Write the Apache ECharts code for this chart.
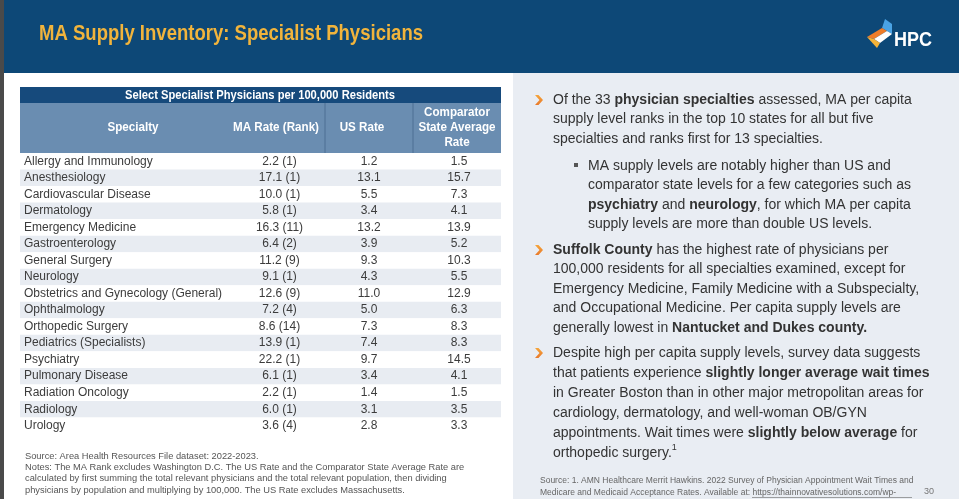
<!DOCTYPE html>
<html><head><meta charset="utf-8">
<script src="https://cdn.jsdelivr.net/npm/echarts@6/dist/echarts.min.js"></script>
<style>html,body{margin:0;padding:0;background:#fff}#c{width:959px;height:499px}</style>
</head><body><div id="c"></div>
<script>
// ---- data ----
const specialties = ['Allergy and Immunology','Anesthesiology','Cardiovascular Disease','Dermatology','Emergency Medicine','Gastroenterology','General Surgery','Neurology','Obstetrics and Gynecology (General)','Ophthalmology','Orthopedic Surgery','Pediatrics (Specialists)','Psychiatry','Pulmonary Disease','Radiation Oncology','Radiology','Urology'];
const maRate = [2.2,17.1,10.0,5.8,16.3,6.4,11.2,9.1,12.6,7.2,8.6,13.9,22.2,6.1,2.2,6.0,3.6];
const maRank = [1,1,1,1,11,2,9,1,9,4,14,1,1,1,1,1,4];
const usRate = [1.2,13.1,5.5,3.4,13.2,3.9,9.3,4.3,11.0,5.0,7.3,7.4,9.7,3.4,1.4,3.1,2.8];
const compRate = [1.5,15.7,7.3,4.1,13.9,5.2,10.3,5.5,12.9,6.3,8.3,8.3,14.5,4.1,1.5,3.5,3.3];
const columnHeaders = ['Specialty','MA Rate (Rank)','US Rate','Comparator\nState Average\nRate'];
const tableTitle = 'Select Specialist Physicians per 100,000 Residents';
const slideTitle = 'MA Supply Inventory: Specialist Physicians';

const chart = echarts.init(document.getElementById('c'), null, {renderer:'canvas'});
const BODY_FONT = "'Liberation Sans', Arial, sans-serif";
const BOLD_FONT = "'Liberation Sans', Arial, sans-serif";

// text width measurement (used only to condense bold headings like the narrow font of the original)
const mctx = document.createElement('canvas').getContext('2d');
function squeeze(text, font, target){
  mctx.font = font;
  const w = Math.max.apply(null, text.split('\n').map(t => mctx.measureText(t).width));
  return target / w;
}

const TOP = 153, H = 281;
const stripe = {show:true, areaStyle:{color:['#ffffff','#e8ecf2']}};
const cols = [[20,232],[232,325],[325,413],[413,501]];

const grids = cols.map(c => ({left:c[0], width:c[1]-c[0], top:TOP, height:H}));
const xAxes = cols.map((c,i) => ({
  type:'category', gridIndex:i, position:'top', data:[columnHeaders[i]],
  axisLine:{show:false}, axisTick:{show:false}, splitLine:{show:false}, axisLabel:{show:false}
}));
const yAxes = cols.map((c,i) => ({
  type:'category', gridIndex:i, inverse:true, data:specialties,
  axisLine:{show:false}, axisTick:{show:false}, splitLine:{show:false},
  splitArea:stripe,
  axisLabel:{show:i===0, inside:true, margin:4, color:'#3c3c3c', fontFamily:BODY_FONT, fontSize:12}
}));

function textCol(idx, fmt, dx){
  return {
    type:'custom', xAxisIndex:idx, yAxisIndex:idx, silent:true,
    data: specialties.map((s,i)=>[0,i]),
    renderItem:(params, api)=>{
      const p = api.coord([api.value(0), api.value(1)]);
      return {type:'text', x:p[0]+(dx||0), y:p[1], style:{text:fmt(params.dataIndex), align:'center', verticalAlign:'middle',
        fill:'#3c3c3c', font:"12px "+BODY_FONT}};
    }
  };
}
const series = [
  textCol(1, i => maRate[i].toFixed(1)+' ('+maRank[i]+')', 1),
  textCol(2, i => usRate[i].toFixed(1), 0),
  textCol(3, i => compRate[i].toFixed(1), 2)
];

// right panel text
const RT = "14px "+BODY_FONT;
const rich = {
  b:{fontWeight:'bold', fontSize:14, fontFamily:BOLD_FONT, color:'#111'},
  sup:{fontSize:9, verticalAlign:'top', color:'#333', padding:[0,0,8,0]}
};
function para(x,y,lines,lh){
  return {type:'text', left:x, top:y, style:{text:lines.join('\n'), fill:'#333', font:RT, lineHeight:lh, rich:rich}};
}
function chevron(x,y){
  return {type:'polygon', shape:{points:[[x,y],[x+3.5,y],[x+8,y+5],[x+3.5,y+10],[x,y+10],[x+4.5,y+5]]},
    style:{fill:new echarts.graphic.LinearGradient(0,0,0,1,[{offset:0,color:'#f5a53a'},{offset:1,color:'#e9792a'}])}};
}

const titleFont = "bold 22px "+BOLD_FONT;
const headFont = "bold 12.5px "+BOLD_FONT;
const headScale = squeeze('MA Rate (Rank)', headFont, 86);
const headerCenters = [133, 276, 362, 457];

const graphic = [
  {type:'rect', shape:{x:0,y:0,width:959,height:73}, style:{fill:'#0d4877'}},
  {type:'rect', shape:{x:0,y:0,width:4,height:499}, style:{fill:'#4a4a4a'}, z:10},
  {type:'text', x:39, y:34, scaleX:squeeze(slideTitle, titleFont, 384),
    style:{text:slideTitle, fill:'#f1b43c', font:titleFont, verticalAlign:'middle'}},
  // logo
  {type:'polygon', shape:{points:[[882,28],[885,19],[892,24],[892,34],[887,31]]}, style:{fill:'#4aa3e4'}},
  {type:'polygon', shape:{points:[[867,37],[882,28],[887,31],[874,39]]}, style:{fill:'#ee7d2a'}},
  {type:'polygon', shape:{points:[[874,39],[887,31],[892,34],[880,43]]}, style:{fill:'#ffffff'}},
  {type:'polygon', shape:{points:[[867,37],[874,39],[880,43],[877,48]]}, style:{fill:'#f5b338'}},
  {type:'text', x:894, y:40, scaleX:squeeze('HPC', "bold 21px "+BODY_FONT, 38),
    style:{text:'HPC', fill:'#ffffff', font:"bold 21px "+BODY_FONT, verticalAlign:'middle'}},
  // table header bands
  {type:'rect', shape:{x:20,y:87,width:481,height:16}, style:{fill:'#164a7c'}},
  {type:'rect', shape:{x:20,y:103,width:481,height:50}, style:{fill:'#6a8db1'}, z:-1},
  {type:'text', x:260, y:95.5, scaleX:squeeze(tableTitle, headFont, 270),
    style:{text:tableTitle, fill:'#fff', font:headFont, align:'center', verticalAlign:'middle'}},
  {type:'line', shape:{x1:325,y1:103,x2:325,y2:153}, style:{stroke:'#4d6f93', lineWidth:1}},
  {type:'line', shape:{x1:413,y1:103,x2:413,y2:153}, style:{stroke:'#4d6f93', lineWidth:1}}
].concat(columnHeaders.map((h,i)=>({
    type:'text', x:headerCenters[i], y:128, scaleX:headScale,
    style:{text:h, fill:'#fff', font:headFont, align:'center', verticalAlign:'middle', lineHeight:15}
  }))).concat([
  // notes
  {type:'text', left:25, top:450.5, style:{text:[
    'Source: Area Health Resources File dataset: 2022-2023.',
    'Notes: The MA Rank excludes Washington D.C. The US Rate and the Comparator State Average Rate are',
    'calculated by first summing the total relevant physicians and the total relevant population, then dividing',
    'physicians by population and multiplying by 100,000. The US Rate excludes Massachusetts.'].join('\n'),
    fill:'#555', font:"9.3px "+BODY_FONT, lineHeight:11.3}},
  // right panel
  {type:'rect', shape:{x:513,y:73,width:446,height:426}, style:{fill:'#e9edf3'}, z:-2},
  chevron(535,95),
  para(553,90,['Of the 33 {b|physician specialties} assessed, MA per capita','supply level ranks in the top 10 states for all but five','specialties and ranks first for 13 specialties.'],19.6),
  {type:'rect', shape:{x:574,y:163,width:4,height:4}, style:{fill:'#555'}},
  para(588,156,['MA supply levels are notably higher than US and','comparator state levels for a few categories such as','{b|psychiatry} and {b|neurology}, for which MA per capita','supply levels are more than double US levels.'],19.6),
  chevron(535,245),
  para(553,240,['{b|Suffolk County} has the highest rate of physicians per','100,000 residents for all specialties examined, except for','Emergency Medicine, Family Medicine with a Subspecialty,','and Occupational Medicine. Per capita supply levels are','generally lowest in {b|Nantucket and Dukes county.}'],19.6),
  chevron(535,348),
  para(553,343,['Despite high per capita supply levels, survey data suggests','that patients experience {b|slightly longer average wait times}','in Greater Boston than in other major metropolitan areas for','cardiology, dermatology, and well-woman OB/GYN','appointments. Wait times were {b|slightly below average} for','orthopedic surgery.{sup|1}'],20),
  {type:'text', left:540, top:475, style:{text:'Source: 1. AMN Healthcare Merrit Hawkins. 2022 Survey of Physician Appointment Wait Times and\nMedicare and Medicaid Acceptance Rates. Available at: https://thainnovativesolutions.com/wp-',
    fill:'#666', font:"8.5px "+BODY_FONT, lineHeight:11.5}},
  {type:'line', shape:{x1:752,y1:497.5,x2:912,y2:497.5}, style:{stroke:'#666', lineWidth:0.6}},
  {type:'text', left:924, top:487, style:{text:'30', fill:'#777', font:"9px "+BODY_FONT}}
]);

chart.setOption({
  animation:false,
  grid:grids, xAxis:xAxes, yAxis:yAxes, series:series, graphic:graphic
});
</script></body></html>
